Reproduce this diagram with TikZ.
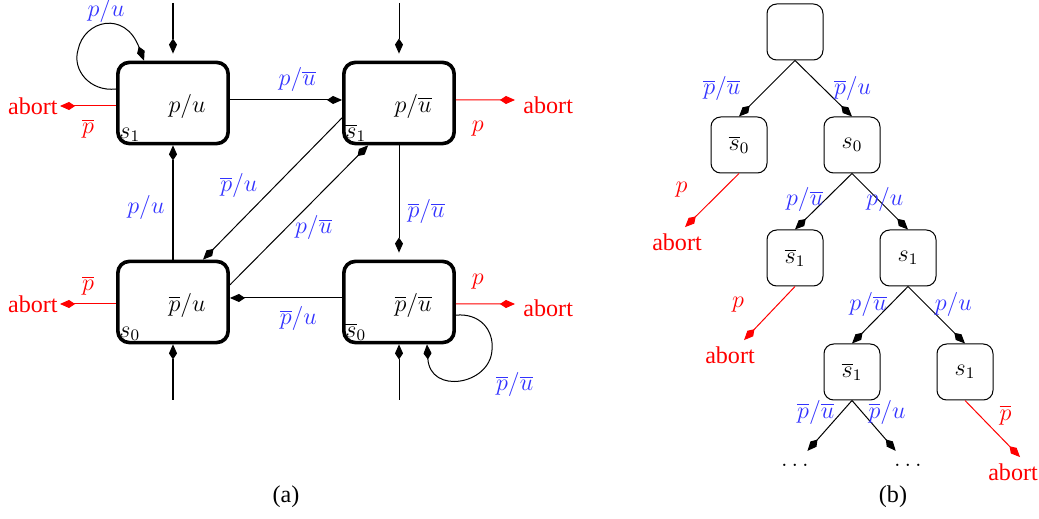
\documentclass[12pt,tikz,border=0pt]{standalone}
\usepackage[no-math]{fontspec}
\setmainfont{Liberation Serif}
\usetikzlibrary{arrows.meta}
\definecolor{lblue}{RGB}{51,51,255}

\begin{document}
\begin{tikzpicture}[x=0.0175cm,y=0.0175cm,
    bigbox/.style={draw,line width=1.8pt,rounded corners=0.2cm,minimum width=1.93cm,minimum height=1.42cm},
    tbox/.style={draw,line width=0.5pt,rounded corners=0.17cm,minimum width=0.98cm,minimum height=0.98cm,text depth=2pt},
    arr/.style={line width=0.5pt,-{Kite[length=7.5pt,width=4pt,inset=3pt]}},
    ab/.style={arr,red},
    lbl/.style={text=lblue},
    rlbl/.style={text=red},
    abt/.style={text=red,inner sep=1pt}]
  \useasboundingbox (0,0) rectangle (1039,519);

  % (a) the four states
  \node[bigbox,label={[xshift=7pt,yshift=-1.5pt]center:$p/u$},
    label={[anchor=south west,inner sep=1.5pt]south west:$s_1$}] (s1) at (173,416) {};
  \node[bigbox,label={[xshift=7pt,yshift=-1.5pt]center:$p/\overline{u}$},
    label={[anchor=south west,inner sep=1.5pt]south west:$\overline{s}_1$}] (sb1) at (399,416) {};
  \node[bigbox,label={[xshift=7pt,yshift=-1.5pt]center:$\overline{p}/u$},
    label={[anchor=south west,inner sep=1.5pt]south west:$s_0$}] (s0) at (173,217) {};
  \node[bigbox,label={[xshift=7pt,yshift=-1.5pt]center:$\overline{p}/\overline{u}$},
    label={[anchor=south west,inner sep=1.5pt]south west:$\overline{s}_0$}] (sb0) at (399,217) {};

  \coordinate (in1) at (173,516);
  \coordinate (in2) at (399,516);
  \coordinate (in3) at (173,119);
  \coordinate (in4) at (399,119);
  \draw[arr,shorten >=3.5pt] (in1) -- (s1);
  \draw[arr,shorten >=3.5pt] (in2) -- (sb1);
  \draw[arr] (in3) -- (s0);
  \draw[arr] (in4) -- (sb0);

  % transitions
  \draw[arr] ([yshift=0.0525cm]s1.east) -- node[lbl,above,pos=0.6]{$p/\overline{u}$} ([yshift=0.0525cm]sb1.west);
  \draw[arr] ([yshift=0.07cm]sb0.west) -- node[lbl,below,pos=0.39]{$\overline{p}/u$} ([yshift=0.07cm]s0.east);
  \draw[arr,shorten >=3.5pt] (sb1) -- node[lbl,right,pos=0.58]{$\overline{p}/\overline{u}$} (sb0);
  \draw[arr] (s0) -- node[lbl,left,pos=0.46]{$p/u$} (s1);
  \draw[arr] ([yshift=-0.26cm]sb1.west) -- node[lbl,left,pos=0.475,xshift=-5pt]{$\overline{p}/u$} ([xshift=0.525cm]s0.north);
  \draw[arr] ([yshift=0.3cm]s0.east) -- node[lbl,right,pos=0.41]{$p/\overline{u}$} ([xshift=-0.54cm]sb1.south);

  % loops
  \draw[arr] ([yshift=0.245cm]s1.west) .. controls (90,427) and (72,449) .. (78,469)
    .. controls (84,499) and (125,509) .. ([xshift=0.49cm]s1.north west) node[lbl,above,pos=0.5,inner sep=1pt]{$p/u$};
  \draw[arr] ([yshift=-0.23cm]sb0.east) .. controls (480,206) and (494,189) .. (492,169)
    .. controls (490,134) and (430,124) .. ([xshift=0.49cm]sb0.south) node[lbl,below right,pos=0.15]{$\overline{p}/\overline{u}$};

  % aborts
  \node[abt,anchor=east] (ab1) at (60,413) {abort};
  \node[abt,anchor=east] (ab2) at (60,215) {abort};
  \node[abt,anchor=west,inner xsep=4pt] (ab3) at (515,414) {abort};
  \node[abt,anchor=west,inner xsep=4pt] (ab4) at (515,211) {abort};
  \draw[ab] ([yshift=-0.0525cm]s1.west) -- node[rlbl,below,pos=0.5,yshift=-2.5pt]{$\overline{p}$} (ab1);
  \draw[ab] ([yshift=-0.035cm]s0.west) -- node[rlbl,above,pos=0.5]{$\overline{p}$} (ab2);
  \draw[ab] ([yshift=0.0525cm]sb1.east) -- node[rlbl,below,pos=0.37,yshift=-6.5pt]{$p$} ([yshift=0.0875cm]ab3.west);
  \draw[ab] ([yshift=-0.035cm]sb0.east) -- node[rlbl,above,pos=0.37,yshift=3pt]{$p$} ([yshift=0.07cm]ab4.west);

  \node (capa) at (286,22) {(a)};

  % (b) the tree
  \node[tbox] (r) at (795,487) {};
  \node[tbox] (t0b) at (739,374) {$\overline{s}_0$};
  \node[tbox] (t0) at (852,374) {$s_0$};
  \node[tbox] (t1b) at (795,261) {$\overline{s}_1$};
  \node[tbox] (t1) at (908,261) {$s_1$};
  \node[tbox] (t2b) at (852,147) {$\overline{s}_1$};
  \node[tbox] (t2) at (965,147) {$s_1$};
  \node (d1) at (795,54) {$\ldots$};
  \node (d2) at (908,54) {$\ldots$};
  \node[abt,inner sep=3pt] (ab5) at (677,277) {abort};
  \node[abt,inner sep=3pt] (ab6) at (730,164) {abort};
  \node[abt,inner sep=3pt] (ab7) at (1013,47) {abort};

  \draw[arr] (r.south) -- node[lbl,pos=0.5,xshift=-22.5pt]{$\overline{p}/\overline{u}$} (t0b.north);
  \draw[arr] (r.south) -- node[lbl,pos=0.5,xshift=14.5pt]{$\overline{p}/u$} (t0.north);
  \draw[ab] (t0b.south) -- node[rlbl,pos=0.3,xshift=-20.5pt]{$p$} ([xshift=4pt]ab5.north);
  \draw[arr] (t0.south) -- node[lbl,pos=0.46,xshift=-10.5pt]{$p/\overline{u}$} (t1b.north);
  \draw[arr] (t0.south) -- node[lbl,pos=0.46,xshift=3.5pt]{$p/u$} (t1.north);
  \draw[ab] (t1b.south) -- node[rlbl,pos=0.33,xshift=-20pt]{$p$} ([xshift=7pt]ab6.north);
  \draw[arr] (t1.south) -- node[lbl,pos=0.32,xshift=-11pt]{$p/\overline{u}$} (t2b.north);
  \draw[arr] (t1.south) -- node[lbl,pos=0.32,xshift=13.5pt]{$p/u$} (t2.north);
  \draw[arr,shorten >=3pt] (t2b.south) -- node[lbl,pos=0.21,xshift=-13pt]{$\overline{p}/\overline{u}$} (d1);
  \draw[arr,shorten >=3pt] (t2b.south) -- node[lbl,pos=0.21,xshift=12.5pt]{$\overline{p}/u$} (d2);
  \draw[ab] (t2.south) -- node[rlbl,pos=0.26,xshift=13pt]{$\overline{p}$} ([xshift=3.5pt]ab7.north);

  \node (capb) at (893,22) {(b)};
\end{tikzpicture}
\end{document}
